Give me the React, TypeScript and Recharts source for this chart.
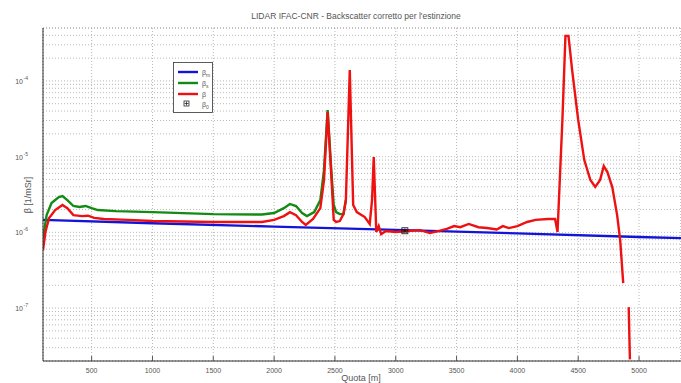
import React from "react";
import { ComposedChart, Line, Scatter, XAxis, YAxis, CartesianGrid } from "recharts";

// Molecular backscatter (blue)
const molX = [100, 1000, 2000, 3000, 4000, 5000, 5345];
const molY = [1.46e-6, 1.32e-6, 1.19e-6, 1.08e-6, 9.7e-7, 8.7e-7, 8.4e-7];

// Green profile
const grnX = [100, 130, 170, 230, 260, 300, 350, 400, 450, 500, 550, 700, 1000, 1500, 1900, 2000, 2080, 2130, 2180, 2230, 2270, 2330, 2380, 2410, 2440, 2470, 2490, 2510, 2540, 2570, 2590];
const grnY = [8.4e-7, 1.69e-6, 2.44e-6, 2.93e-6, 3.02e-6, 2.67e-6, 2.23e-6, 2.16e-6, 2.23e-6, 2.09e-6, 1.97e-6, 1.91e-6, 1.85e-6, 1.74e-6, 1.72e-6, 1.8e-6, 2.09e-6, 2.37e-6, 2.23e-6, 1.8e-6, 1.64e-6, 1.85e-6, 2.67e-6, 6.65e-6, 4.13e-5, 6.65e-6, 2.3e-6, 1.85e-6, 1.74e-6, 1.74e-6, 2.67e-6];

// Red profile (beta)
const redX = [100, 120, 150, 200, 260, 300, 350, 420, 470, 520, 600, 800, 1000, 1500, 1900, 2000, 2080, 2130, 2180, 2230, 2260, 2320, 2380, 2410, 2440, 2470, 2490, 2510, 2540, 2570, 2590, 2622, 2650, 2680, 2745, 2786, 2805, 2819, 2840, 2860, 2880, 2920, 3000, 3100, 3200, 3280, 3350, 3420, 3480, 3530, 3600, 3680, 3750, 3830, 3880, 3930, 4000, 4080, 4150, 4250, 4310, 4330, 4370, 4395, 4420, 4450, 4500, 4550, 4600, 4640, 4680, 4710, 4740, 4780, 4820, 4845, 4870, 4890, 4915, 4925];
const redY: (number | null)[] = [5.8e-7, 1.01e-6, 1.55e-6, 1.97e-6, 2.3e-6, 2.09e-6, 1.69e-6, 1.64e-6, 1.66e-6, 1.55e-6, 1.5e-6, 1.46e-6, 1.41e-6, 1.37e-6, 1.37e-6, 1.46e-6, 1.64e-6, 1.85e-6, 1.69e-6, 1.37e-6, 1.25e-6, 1.5e-6, 2.09e-6, 4.91e-6, 3.88e-5, 5.7e-6, 1.46e-6, 1.37e-6, 1.41e-6, 1.74e-6, 2.67e-6, 1.39e-4, 2.3e-6, 1.85e-6, 1.59e-6, 1.29e-6, 2.67e-6, 9.9e-6, 1.01e-6, 1.21e-6, 9.5e-7, 1.04e-6, 1.01e-6, 1.04e-6, 1.07e-6, 9.8e-7, 1.04e-6, 1.11e-6, 1.21e-6, 1.17e-6, 1.29e-6, 1.17e-6, 1.14e-6, 1.09e-6, 1.21e-6, 1.14e-6, 1.21e-6, 1.37e-6, 1.46e-6, 1.5e-6, 1.5e-6, 1.01e-6, 3.05e-5, 3.93e-4, 3.93e-4, 1.39e-4, 3.05e-5, 9.0e-6, 4.91e-6, 3.97e-6, 4.91e-6, 7.5e-6, 6.26e-6, 3.97e-6, 1.69e-6, 7.9e-7, 2.14e-7, null, 1.03e-7, 2.1e-8];

// Reference point beta0
const refX = [3075];
const refY = [1.05e-6];

const xTicks = [500, 1000, 1500, 2000, 2500, 3000, 3500, 4000, 4500, 5000];
const decadeExps = [-8, -7, -6, -5, -4];
const minorMults = [1, 2, 3, 4, 5, 6, 7, 8, 9];

const Y_MIN = 2e-8;
const Y_MAX = 5e-4;

const yTicks: number[] = [];
decadeExps.forEach((e) => {
  minorMults.forEach((m) => {
    const v = Number((m * Math.pow(10, e)).toPrecision(3));
    if (v >= Y_MIN * 0.999 && v <= Y_MAX * 1.001) yTicks.push(v);
  });
});

const molData = molX.map((x, i) => ({ x, y: molY[i] }));
const grnData = grnX.map((x, i) => ({ x, y: grnY[i] }));
const redData = redX.map((x, i) => ({ x, y: redY[i] }));
const refData = refX.map((x, i) => ({ x, y: refY[i] }));

const FONT = "'Liberation Sans', Arial, sans-serif";
const TXT = "#555";

const YTick = (props: any) => {
  const { x, y, payload } = props;
  const lg = Math.log10(payload.value);
  if (Math.abs(lg - Math.round(lg)) > 1e-6) return null;
  const e = Math.round(lg);
  return (
    <g>
      <text x={x - 12} y={y + 3} textAnchor="end" fontSize={7} fill={TXT} fontFamily={FONT}>
        10
      </text>
      <text x={x - 11.5} y={y - 1} textAnchor="start" fontSize={5} fill={TXT} fontFamily={FONT}>
        {String(e)}
      </text>
    </g>
  );
};

const XTick = (props: any) => {
  const { x, y, payload } = props;
  return (
    <g>
      <line x1={x} x2={x} y1={y - 8} y2={y - 13} stroke="#333" strokeWidth={0.8} />
      <text x={x} y={y + 4} textAnchor="middle" fontSize={7} fill={TXT} fontFamily={FONT}>
        {payload.value}
      </text>
    </g>
  );
};

const RefShape = (props: any) => {
  const { cx, cy } = props;
  if (cx == null || cy == null) return null;
  return (
    <g stroke="#111" strokeWidth={0.8} fill="none">
      <rect x={cx - 3} y={cy - 3} width={6} height={6} />
      <line x1={cx - 2.5} x2={cx + 2.5} y1={cy} y2={cy} />
      <line x1={cx} x2={cx} y1={cy - 2.5} y2={cy + 2.5} />
      <line x1={cx - 2} x2={cx + 2} y1={cy - 2} y2={cy + 2} />
      <line x1={cx - 2} x2={cx + 2} y1={cy + 2} y2={cy - 2} />
    </g>
  );
};

const legendItems = [
  { color: "#1414d8", main: "β", sub: "m" },
  { color: "#138a13", main: "β", sub: "s" },
  { color: "#ee1111", main: "β", sub: "" },
];

export default function App() {
  return (
    <div style={{ position: "absolute", left: 0, top: 0, width: 681, height: 383, background: "#fff" }}>
      <ComposedChart
        width={681}
        height={383}
        margin={{ top: 28, right: 0, bottom: 0, left: 0 }}
        style={{ background: "#fff" }}
      >
        <CartesianGrid stroke="#9a9a9a" strokeDasharray="1 2" strokeWidth={0.7} />
        <XAxis
          xAxisId="b"
          dataKey="x"
          type="number"
          domain={[100, 5345]}
          ticks={xTicks}
          allowDataOverflow
          height={22}
          tickLine={false}
          axisLine={{ stroke: "#333", strokeWidth: 1 }}
          tick={<XTick />}
          interval={0}
        />
        <XAxis
          xAxisId="t"
          orientation="top"
          dataKey="x"
          type="number"
          domain={[100, 5345]}
          ticks={xTicks}
          height={0}
          tick={false}
          tickLine={false}
          axisLine={{ stroke: "#333", strokeWidth: 1 }}
        />
        <YAxis
          yAxisId="l"
          dataKey="y"
          type="number"
          scale="log"
          domain={[Y_MIN, Y_MAX]}
          allowDataOverflow
          ticks={yTicks}
          interval={0}
          width={43}
          tickLine={false}
          axisLine={{ stroke: "#333", strokeWidth: 1 }}
          tick={<YTick />}
        />
        <CartesianGrid xAxisId="b" yAxisId="l" stroke="#9a9a9a" strokeDasharray="1 2" strokeWidth={0.7} />
        <Line xAxisId="b" yAxisId="l" data={molData} dataKey="y" type="linear" stroke="#1414d8" strokeWidth={2.4} dot={false} isAnimationActive={false} />
        <Line xAxisId="b" yAxisId="l" data={grnData} dataKey="y" type="linear" stroke="#138a13" strokeWidth={2.4} dot={false} isAnimationActive={false} />
        <Line xAxisId="b" yAxisId="l" data={redData} dataKey="y" type="linear" stroke="#ee1111" strokeWidth={2.4} dot={false} isAnimationActive={false} connectNulls={false} />
        <Scatter xAxisId="b" yAxisId="l" data={refData} dataKey="y" shape={<RefShape />} isAnimationActive={false} />
      </ComposedChart>
      <svg width={681} height={383} style={{ position: "absolute", left: 0, top: 0, pointerEvents: "none" }}>
        <text x={356} y={19} textAnchor="middle" fontSize={8.5} fill={TXT} fontFamily={FONT}>
          LIDAR IFAC-CNR - Backscatter corretto per l'estinzione
        </text>
        <text x={361} y={381} textAnchor="middle" fontSize={9} fill={TXT} fontFamily={FONT}>
          Quota [m]
        </text>
        <text x={31} y={195} textAnchor="middle" fontSize={9} fill={TXT} fontFamily={FONT} transform="rotate(-90 31 195)">
          β [1/mSr]
        </text>
        <g>
          <rect x={173.5} y={62.5} width={39} height={50} fill="#fff" stroke="#333" strokeWidth={0.8} />
          {legendItems.map((it, i) => (
            <g key={i}>
              <line x1={178} x2={198} y1={72 + i * 11} y2={72 + i * 11} stroke={it.color} strokeWidth={2.4} />
              <text x={202} y={75 + i * 11} fontSize={7} fill={TXT} fontFamily={FONT}>
                {it.main}
                {it.sub ? <tspan fontSize={5} dy={1.5}>{it.sub}</tspan> : null}
              </text>
            </g>
          ))}
          <g stroke="#111" strokeWidth={0.7} fill="none">
            <rect x={184} y={101} width={5} height={5} />
            <line x1={184.5} x2={188.5} y1={103.5} y2={103.5} />
            <line x1={186.5} x2={186.5} y1={101.5} y2={105.5} />
          </g>
          <text x={202} y={107} fontSize={7} fill={TXT} fontFamily={FONT}>
            β<tspan fontSize={5} dy={1.5}>0</tspan>
          </text>
        </g>
      </svg>
    </div>
  );
}
